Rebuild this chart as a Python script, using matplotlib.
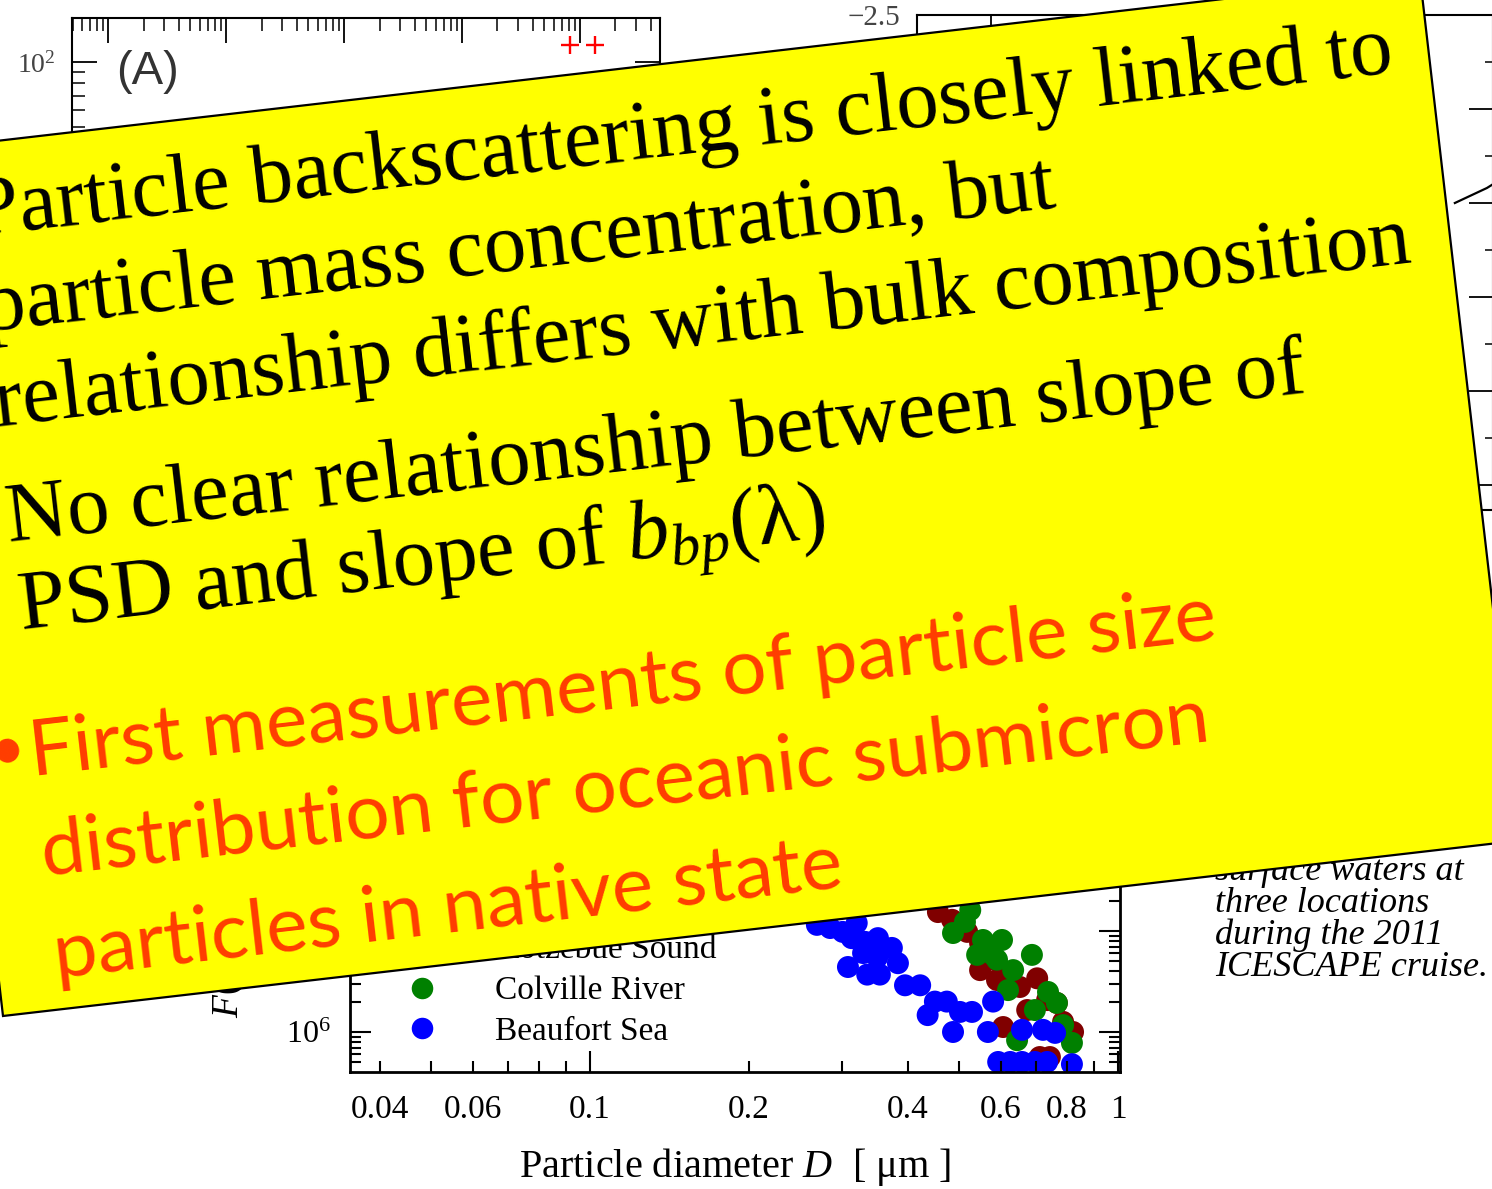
import matplotlib
matplotlib.use("Agg")
import matplotlib.pyplot as plt
from matplotlib.patches import Polygon
from matplotlib.lines import Line2D
from matplotlib.ticker import FixedLocator, FixedFormatter, LogLocator, NullFormatter, MultipleLocator
import numpy as np

# ---------------- data ----------------
series_names = ["Kotzebue Sound", "Colville River", "Beaufort Sea"]
series_colors = ["#800000", "#008000", "#0000ff"]

kotz_D = [0.456, 0.485, 0.518, 0.548, 0.548, 0.580, 0.590, 0.625, 0.652, 0.703,
          0.673, 0.734, 0.766, 0.787, 0.822, 0.606, 0.711, 0.743]
kotz_F = [15.4e6, 12.9e6, 9.8e6, 7.6e6, 4.1e6, 5.2e6, 3.27e6, 3.84e6, 2.79e6, 3.4e6,
          1.65e6, 2.07e6, 1.94e6, 1.26e6, 1.0e6, 1.12e6, 0.565e6, 0.565e6]

colv_D = [0.525, 0.513, 0.487, 0.555, 0.603, 0.541, 0.580, 0.590, 0.633, 0.687,
          0.619, 0.737, 0.766, 0.696, 0.787, 0.644, 0.818]
colv_F = [16.1e6, 12.3e6, 9.55e6, 8.15e6, 8.15e6, 5.8e6, 5.8e6, 5.2e6, 4.1e6, 5.8e6,
          2.6e6, 2.49e6, 1.94e6, 1.65e6, 1.17e6, 0.83e6, 0.78e6]

beau_D = [0.269, 0.285, 0.301, 0.320, 0.313, 0.332, 0.351, 0.373, 0.329, 0.350,
          0.308, 0.335, 0.354, 0.383, 0.395, 0.422, 0.450, 0.474, 0.436, 0.502,
          0.529, 0.487, 0.567, 0.580, 0.658, 0.721, 0.760, 0.593, 0.625, 0.658,
          0.696, 0.734, 0.818]
beau_F = [11.5e6, 10.7e6, 9.8e6, 12.0e6, 8.5e6, 7.8e6, 8.5e6, 6.8e6, 6.05e6, 5.5e6,
          4.4e6, 3.7e6, 3.7e6, 4.8e6, 2.9e6, 2.9e6, 2.0e6, 2.0e6, 1.47e6, 1.58e6,
          1.58e6, 1.0e6, 1.0e6, 2.0e6, 1.05e6, 1.05e6, 0.98e6, 0.505e6, 0.505e6, 0.505e6,
          0.505e6, 0.505e6, 0.48e6]

x_major_vals = [0.1, 1.0]
x_major_labels = ["0.1", "1"]
x_minor_vals = [0.04, 0.05, 0.06, 0.07, 0.08, 0.09, 0.2, 0.3, 0.4, 0.5, 0.6, 0.7, 0.8, 0.9]
x_minor_labels = ["0.04", "", "0.06", "", "", "", "0.2", "", "0.4", "", "0.6", "", "0.8", ""]

panelA_x = [8200, 13400]
panelA_y = [120, 120]
panelB_x = [681, 685, 689, 693, 697, 700]
panelB_y = [-3.50, -3.48, -3.46, -3.44, -3.42, -3.40]

caption_lines = ["surface waters at", "three locations", "during the 2011", "ICESCAPE cruise."]

black_lines = ["Particle backscattering is closely linked to",
               "particle mass concentration, but",
               "relationship differs with bulk composition",
               "No clear relationship between slope of",
               r"PSD and slope of $b_{bp}$(λ)"]
red_lines = ["First measurements of particle size",
             "distribution for oceanic submicron",
             "particles in native state"]

# ---------------- style ----------------
plt.rcParams["font.family"] = ["Liberation Serif", "DejaVu Serif"]
plt.rcParams["mathtext.fontset"] = "custom"
plt.rcParams["mathtext.rm"] = "Liberation Serif"
plt.rcParams["mathtext.it"] = "Liberation Serif:italic"
plt.rcParams["mathtext.bf"] = "Liberation Serif:bold"

W, H = 1492, 1189
fig = plt.figure(figsize=(W / 100, H / 100), dpi=100)
fig.patch.set_facecolor("white")


def rect(l, t, r, b):
    return [l / W, 1 - b / H, (r - l) / W, (b - t) / H]


def fx(x):
    return x / W


def fy(y):
    return 1 - y / H


# ---------------- panel A (top left) ----------------
axA = fig.add_axes(rect(72, 18, 660, 600))
axA.set_facecolor("none")
axA.set_xscale("log")
axA.set_yscale("log")
axA.set_xlim(0.495, 4.77e4)
axA.set_ylim(10 ** -0.49, 10 ** 2.204)
axA.plot(panelA_x, panelA_y, ls="", marker="+", color="red", ms=13, mew=1.7)
axA.xaxis.set_minor_locator(LogLocator(subs=np.arange(2, 10)))
axA.xaxis.set_minor_formatter(NullFormatter())
axA.yaxis.set_minor_locator(LogLocator(subs=np.arange(2, 10)))
axA.yaxis.set_minor_formatter(NullFormatter())
axA.tick_params(which="both", direction="in", top=True, right=True,
                labelbottom=False, labelsize=20, labelcolor="#444444", pad=12)
axA.tick_params(which="major", length=18, width=1.3)
axA.tick_params(which="minor", length=9, width=1.1)
for s in axA.spines.values():
    s.set_linewidth(1.5)
axA.text(fx(116), fy(84), "(A)", transform=fig.transFigure, fontsize=34,
         family="Liberation Sans", color="#333333", ha="left", va="baseline")

# ---------------- panel B (top right) ----------------
axB = fig.add_axes(rect(917, 15, 1493, 510))
axB.set_facecolor("none")
axB.set_xlim(413, 700)
axB.set_ylim(-5.133, -2.5)
axB.plot(panelB_x, panelB_y, color="black", lw=1.6)
axB.yaxis.set_major_locator(MultipleLocator(0.5))
axB.yaxis.set_minor_locator(MultipleLocator(0.25))
axB.xaxis.set_major_locator(MultipleLocator(50))
axB.tick_params(which="both", direction="in", top=True, right=True,
                labelbottom=False, labelsize=21, labelcolor="#444444", pad=12)
axB.tick_params(which="major", length=17, width=1.3)
axB.tick_params(which="minor", length=6, width=1.1)
for s in axB.spines.values():
    s.set_linewidth(1.5)

# ---------------- scatter panel (bottom) ----------------
axC = fig.add_axes(rect(350, 577, 1120, 1072))
axC.set_facecolor("none")
axC.set_xscale("log")
axC.set_yscale("log")
axC.set_xlim(10 ** ((350 - 1118) / 528), 10 ** ((1120 - 1118) / 528))
axC.set_ylim(10 ** (6 + (1032 - 1072) / 101), 10 ** (6 + (1032 - 577) / 101))

for D, F, c in [(kotz_D, kotz_F, series_colors[0]),
                (colv_D, colv_F, series_colors[1]),
                (beau_D, beau_F, series_colors[2])]:
    axC.scatter(D, F, s=250, color=c, edgecolors="none")

axC.xaxis.set_major_locator(FixedLocator(x_major_vals))
axC.xaxis.set_major_formatter(FixedFormatter(x_major_labels))
axC.xaxis.set_minor_locator(FixedLocator(x_minor_vals))
axC.xaxis.set_minor_formatter(FixedFormatter(x_minor_labels))
axC.yaxis.set_minor_locator(LogLocator(subs=np.arange(2, 10)))
axC.yaxis.set_minor_formatter(NullFormatter())
axC.tick_params(which="both", direction="in", top=True, right=True, width=1.5)
axC.tick_params(axis="x", which="both", labelsize=24, pad=16)
axC.tick_params(axis="y", which="both", labelsize=23, pad=14)
axC.tick_params(which="major", length=15)
axC.tick_params(which="minor", length=8)
for s in axC.spines.values():
    s.set_linewidth(2)
axC.set_xlabel(r"Particle diameter $D$  [ μm ]", fontsize=29, labelpad=15)
axC.set_ylabel(r"$F(D)$  [ m$^{-3}$ μm$^{-1}$ ]", fontsize=27, loc="bottom")
axC.yaxis.set_label_coords((248 - 350) / 770, (1072 - 1018) / 495)

handles = [Line2D([], [], ls="", marker="o", ms=15.5, color=c, mec="none")
           for c in series_colors]
fs_leg = 24
fs_px = fs_leg * 100 / 72
axC.legend(handles, series_names, loc="lower left",
           bbox_to_anchor=(fx(422 - fs_px / 2), fy(1047)),
           bbox_transform=fig.transFigure, frameon=False, fontsize=fs_leg,
           handlelength=1.0, handletextpad=(495 - 422 - fs_px / 2) / fs_px,
           labelspacing=0.31, borderpad=0, borderaxespad=0)

for i, line in enumerate(caption_lines):
    axC.text(fx(1215), fy(880 + 32 * i), line, transform=fig.transFigure,
             fontsize=26, style="italic", ha="left", va="baseline")

# ---------------- yellow slide box (overlay) ----------------
ov = fig.add_axes([0, 0, 1, 1], zorder=10)
ov.set_xlim(0, W)
ov.set_ylim(H, 0)
ov.axis("off")

theta = np.deg2rad(6.6)
eu = np.array([np.cos(theta), -np.sin(theta)])
ev = np.array([np.sin(theta), np.cos(theta)])
BL = np.array([3.0, 1016.0])
box_h, box_w = 870.0, 1527.0
TL = BL - box_h * ev
TR = TL + box_w * eu
BR = BL + box_w * eu
ov.add_patch(Polygon([TL, TR, BR, BL], closed=True, facecolor="#ffff00",
                     edgecolor="black", lw=1.6, clip_on=False))

renderer = fig.canvas.get_renderer()


def fit_size(s, target, **kw):
    t = ov.text(0, 0, s, fontsize=100, **kw)
    w = t.get_window_extent(renderer=renderer).width
    t.remove()
    return 100 * target / w


def place(u, v, s, ha="left", **kw):
    p = TL + u * eu + v * ev
    ov.text(p[0], p[1], s, rotation=np.rad2deg(theta), rotation_mode="anchor",
            ha=ha, va="baseline", clip_on=False, **kw)


black_kw = dict(family=["Liberation Serif", "DejaVu Serif"], color="black")
red_kw = dict(family=["Lato", "DejaVu Sans"], color="#ff3c00")
fs_black = fit_size(black_lines[0], 1428, **black_kw)
fs_red = fit_size(red_lines[0], 1195, **red_kw)

black_uv = [(62, 92), (62, 188), (62, 283), (60, 400), (62, 490)]
for (u, v), s in zip(black_uv, black_lines):
    place(u, v, s, fontsize=fs_black, **black_kw)
place(14, 92, "•", fontsize=fs_black, **black_kw)
place(14, 400, "•", fontsize=fs_black, **black_kw)

red_uv = [(57, 635), (57, 735), (57, 838)]
for (u, v), s in zip(red_uv, red_lines):
    place(u, v, s, fontsize=fs_red, **red_kw)
place(35, 625, "•", ha="center", fontsize=fs_red * 0.8, **red_kw)

fig.savefig("out.png", dpi=100)
